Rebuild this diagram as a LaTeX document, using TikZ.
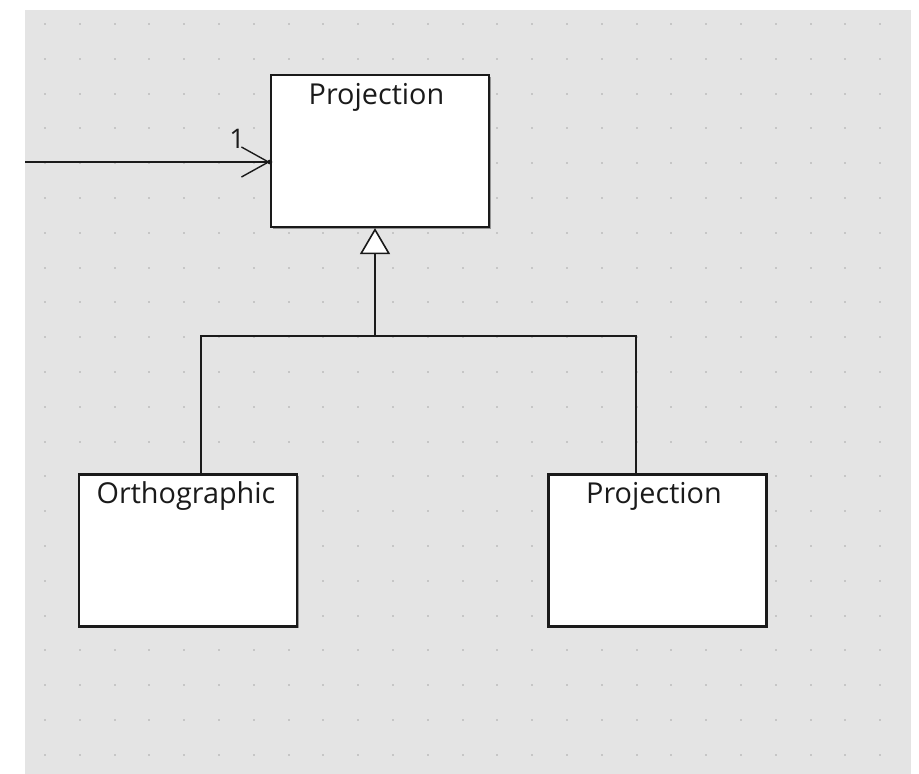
\documentclass[tikz,border=0pt]{standalone}
\usepackage{fontspec}
\setmainfont{Open Sans}
\usetikzlibrary{arrows.meta,shadows,calc}
\definecolor{bggrey}{HTML}{E4E4E4}
\definecolor{dotgrey}{HTML}{C6C6C6}
\definecolor{ink}{HTML}{1A1A1A}
\begin{document}
\begin{tikzpicture}[x=1pt,y=-1pt,
  classbox/.style={draw=ink, line width=2.2pt, fill=white, rectangle,
    minimum width=218pt, minimum height=152pt, inner sep=0pt,
    drop shadow={shadow xshift=1.8pt, shadow yshift=-1.8pt, opacity=0.35, fill=black}},
  title/.style={anchor=center, font=\fontsize{28.8}{32}\selectfont, text=ink, inner sep=0pt},
  conn/.style={draw=ink, line width=1.8pt}]
\useasboundingbox (0,0) rectangle (919,774);
\fill[white] (0,0) rectangle (919,774);
\fill[bggrey] (25,10) rectangle (911,774);
\foreach \i in {0,...,24}{
  \foreach \j in {0,...,21}{
    \fill[dotgrey] ({45+34.8*\i-1},{24+34.8*\j-1}) rectangle ++(2,2);
  }
}
% classes
\node[classbox, label={[name=t1, title, yshift=-23pt, xshift=-3.5pt]north:Projection}] (top) at (380,151) {};
\node[classbox, label={[name=t2, title, yshift=-23pt, xshift=-2pt]north:Orthographic}] (lb) at (188,550.5) {};
\node[classbox, label={[name=t3, title, yshift=-23pt, xshift=-3.5pt]north:Projection}] (rb) at (657.5,550.5) {};
% generalization
\coordinate (j) at (375,336);
\coordinate (jl) at (201,336);
\coordinate (jr) at (636,336);
\draw[conn, line join=miter] (lb.north -| jl) -- (jl) -- (jr) -- (rb.north -| jr);
\draw[conn, -{Triangle[open, length=26pt, width=30pt, fill=white, line width=1.6pt]}] (j) -- (top.south -| j);
% association
\coordinate (src) at (25,162);
\draw[conn, -{Straight Barb[length=27pt, width=30pt, line width=1.4pt]}] (src) -- (top.west |- src);
\fill[ink] (top.west |- src) circle (2.4pt);
\node[title, font=\fontsize{27}{30}\selectfont] (mult) at (237,139) {1};
\end{tikzpicture}
\end{document}
